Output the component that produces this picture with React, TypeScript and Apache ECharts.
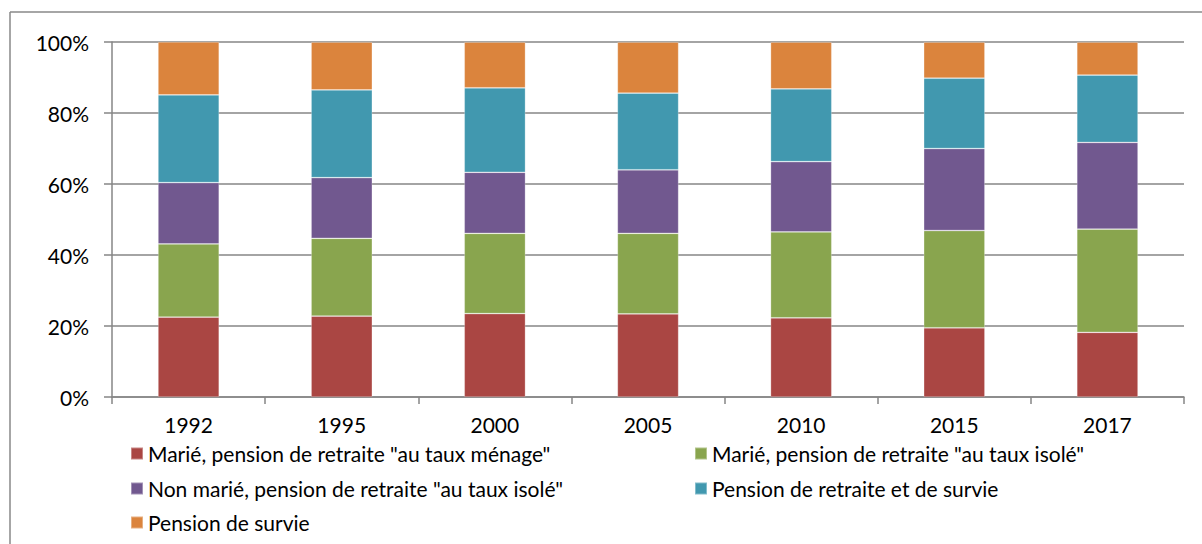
import React, { useEffect, useRef } from "react";
import * as echarts from "echarts";

const years = ["1992", "1995", "2000", "2005", "2010", "2015", "2017"];
const seriesNames = [
  'Marié, pension de retraite "au taux ménage"',
  'Marié, pension de retraite "au taux isolé"',
  'Non marié, pension de retraite "au taux isolé"',
  "Pension de retraite et de survie",
  "Pension de survie",
];
const marieMenage = [22.5, 22.8, 23.5, 23.4, 22.3, 19.5, 18.2];
const marieIsole = [20.6, 21.9, 22.6, 22.7, 24.2, 27.4, 29.1];
const nonMarieIsole = [17.3, 17.1, 17.2, 17.9, 19.8, 23.1, 24.4];
const retraiteSurvie = [24.7, 24.7, 23.8, 21.6, 20.5, 19.8, 19.0];
const survie = [14.9, 13.5, 12.9, 14.4, 13.2, 10.2, 9.3];
const yTicks = [0, 20, 40, 60, 80, 100];
const colors = ["#AA4643", "#89A54E", "#71588F", "#4198AF", "#DB843D"];

const FONT = "Lato";

export default function App() {
  const ref = useRef<HTMLDivElement>(null);
  useEffect(() => {
    document.body.style.margin = "0";
    const chart = echarts.init(ref.current!, null, { renderer: "svg" });
    const values = [marieMenage, marieIsole, nonMarieIsole, retraiteSurvie, survie];
    const legendPos = [
      { left: 130, top: 443 },
      { left: 694, top: 443 },
      { left: 130, top: 478 },
      { left: 694, top: 478 },
      { left: 130, top: 512 },
    ];
    chart.setOption({
      animation: false,
      color: colors,
      textStyle: { fontFamily: FONT },
      grid: { left: 112, right: 18, top: 42, bottom: 147, containLabel: false },
      legend: seriesNames.map((n, i) => ({
        data: [n],
        left: legendPos[i].left,
        top: legendPos[i].top,
        itemWidth: 12,
        itemHeight: 12,
        icon: "rect",
        padding: 0,
        textStyle: { fontFamily: FONT, fontSize: 21, color: "#000" },
        selectedMode: false,
      })),
      xAxis: {
        type: "category",
        data: years,
        axisLine: { show: true, lineStyle: { color: "#868686", width: 1.5 } },
        axisTick: { show: true, length: 7, lineStyle: { color: "#868686", width: 1.5 } },
        axisLabel: { color: "#000", fontSize: 21, fontFamily: FONT, margin: 17 },
      },
      yAxis: {
        type: "value",
        min: yTicks[0],
        max: yTicks[yTicks.length - 1],
        interval: 20,
        axisLine: { show: true, lineStyle: { color: "#868686", width: 1.5 } },
        axisTick: { show: true, length: 8, lineStyle: { color: "#868686", width: 1.5 } },
        axisLabel: {
          color: "#000",
          fontSize: 21,
          fontFamily: FONT,
          margin: 23,
          formatter: "{value}%",
        },
        splitLine: { show: true, lineStyle: { color: "#868686", width: 1.5 } },
      },
      series: seriesNames.map((n, i) => ({
        name: n,
        type: "bar",
        stack: "total",
        barWidth: "40%",
        data: values[i],
        itemStyle: {
          color: colors[i],
          borderColor: "rgba(255,255,255,0.35)",
          borderWidth: 0.75,
        },
      })),
      graphic: [
        {
          type: "line",
          shape: { x1: 10, y1: 12, x2: 1202, y2: 12 },
          style: { stroke: "#898989", lineWidth: 1.5 },
          silent: true,
        },
        {
          type: "line",
          shape: { x1: 10, y1: 12, x2: 10, y2: 544 },
          style: { stroke: "#898989", lineWidth: 1.5 },
          silent: true,
        },
      ],
    });
    return () => chart.dispose();
  }, []);
  return <div ref={ref} style={{ width: 1202, height: 544 }} />;
}
